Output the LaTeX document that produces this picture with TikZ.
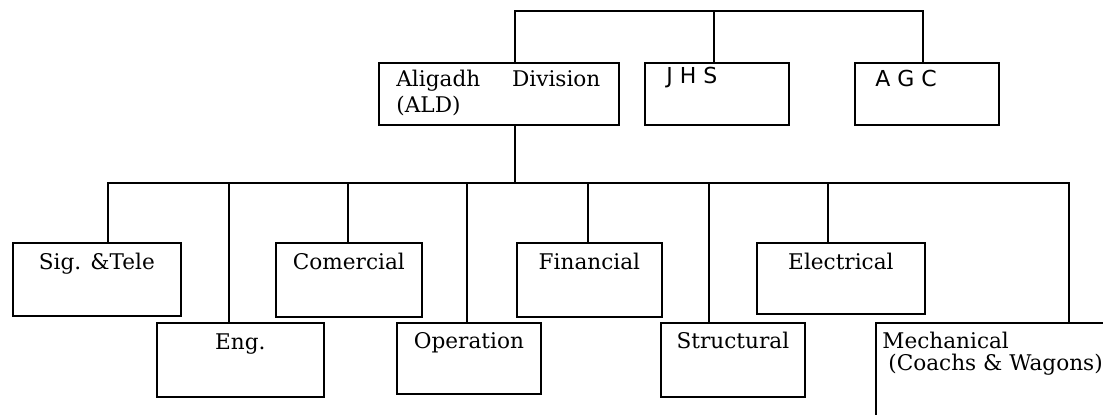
\documentclass[tikz,border=0pt]{standalone}
\usepackage{fontspec}
\setmainfont{DejaVu Serif}
\newfontfamily\orgsans{DejaVu Sans}

\begin{document}
\begin{tikzpicture}[x=0.5pt,y=-0.5pt,
  unit/.style={draw,line width=0.9pt,inner sep=0pt,anchor=north west},
  link/.style={line width=0.9pt},
  title/.style={inner sep=0pt,font=\fontsize{10.8}{13}\selectfont},
  code/.style={inner sep=0pt,anchor=base west,font=\orgsans\fontsize{11}{13}\selectfont}]
\useasboundingbox (0,0) rectangle (1103,414);
\clip (0,0) rectangle (1103,414);

% top level
\node[unit,minimum width=120pt,minimum height=31pt] (ald) at (378,62) {};
\node[unit,minimum width=72pt,minimum height=31pt] (jhs) at (644,62) {};
\node[unit,minimum width=72pt,minimum height=31pt] (agc) at (854,62) {};
\coordinate (top-ald) at (515,11);
\coordinate (top-jhs) at (714,11);
\coordinate (top-agc) at (923,11);
\draw[link] (top-ald |- ald.north) -- (top-ald) -- (top-agc) -- (top-agc |- agc.north);
\draw[link] (top-jhs) -- (top-jhs |- jhs.north);

\node[title,anchor=base west,text width=102pt,align=left] (ald-t) at (396,86) {Aligadh\hfill Division\\(ALD)};
\node[code] (jhs-t) at (666,83) {J H S};
\node[code] (agc-t) at (875,86) {A G C};

% departments
\node[unit,minimum width=84pt,minimum height=36.5pt] (sig) at (12,242) {};
\node[unit,minimum width=83.5pt,minimum height=37pt] (eng) at (156,322) {};
\node[unit,minimum width=73pt,minimum height=37pt] (com) at (275,242) {};
\node[unit,minimum width=72pt,minimum height=35.5pt] (ope) at (396,322) {};
\node[unit,minimum width=72.5pt,minimum height=37pt] (fin) at (516,242) {};
\node[unit,minimum width=72pt,minimum height=37pt] (str) at (660,322) {};
\node[unit,minimum width=84pt,minimum height=35.5pt] (ele) at (756,242) {};
\node[unit,minimum width=120pt,minimum height=55pt] (mec) at (875,322) {};

\coordinate (bus-ald) at (515,183);
\coordinate (bus-sig) at (108,183);
\coordinate (bus-eng) at (229,183);
\coordinate (bus-com) at (348,183);
\coordinate (bus-ope) at (467,183);
\coordinate (bus-fin) at (588,183);
\coordinate (bus-str) at (709,183);
\coordinate (bus-ele) at (828,183);
\coordinate (bus-mec) at (1069,183);

\draw[link] (bus-ald |- ald.south) -- (bus-ald);
\draw[link] (bus-sig |- sig.north) -- (bus-sig) -- (bus-mec) -- (bus-mec |- mec.north);
\foreach \n in {eng,com,ope,fin,str,ele}
  \draw[link] (bus-\n) -- (bus-\n |- \n.north);

\node[title,anchor=base] (sig-t) at (sig.north |- 0,269) {Sig. \&Tele};
\node[title,anchor=base] (com-t) at (com.north |- 0,269) {Comercial};
\node[title,anchor=base] (fin-t) at (fin.north |- 0,269) {Financial};
\node[title,anchor=base] (ele-t) at (ele.north |- 0,269) {Electrical};
\node[title,anchor=base] (eng-t) at (eng.north |- 0,349) {Eng.};
\node[title,anchor=base] (ope-t) at (ope.north |- 0,348) {Operation};
\node[title,anchor=base] (str-t) at (str.north |- 0,348) {Structural};
\node[title,anchor=base west] (mec-t1) at (882,348) {Mechanical};
\node[title,anchor=base west] (mec-t2) at (888,370) {(Coachs \& Wagons)};
\end{tikzpicture}
\end{document}
